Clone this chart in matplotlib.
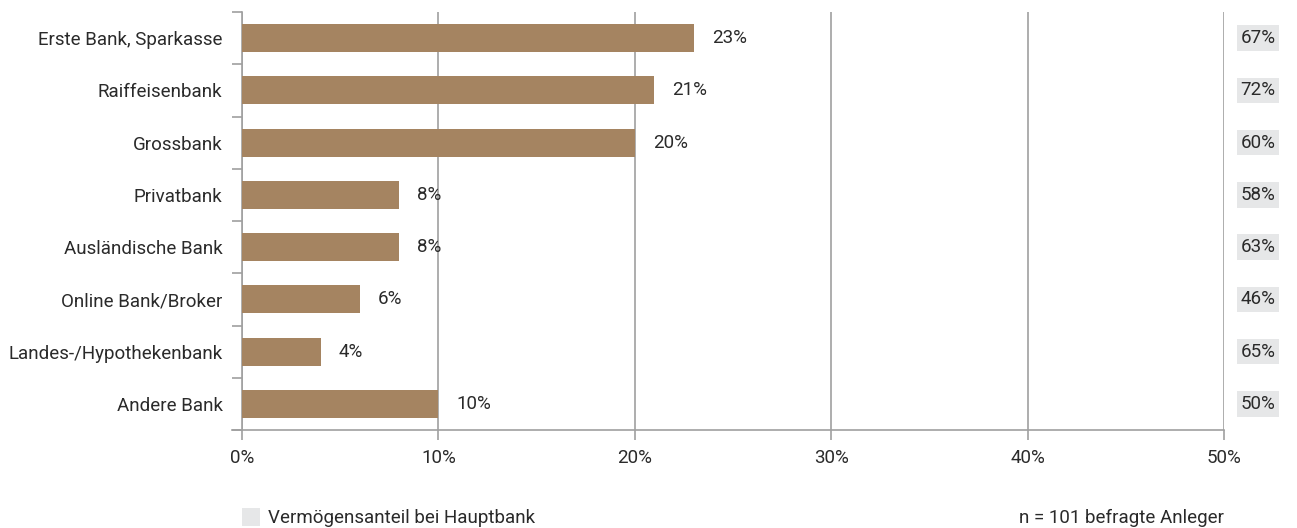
import numpy as np
import matplotlib.pyplot as plt
from matplotlib.patches import Rectangle

categories = ["Erste Bank, Sparkasse", "Raiffeisenbank", "Grossbank", "Privatbank",
              "Ausländische Bank", "Online Bank/Broker", "Landes-/Hypothekenbank", "Andere Bank"]
share_main_bank = [23, 21, 20, 8, 8, 6, 4, 10]
asset_share = [67, 72, 60, 58, 63, 46, 65, 50]
x_ticks = [0, 10, 20, 30, 40, 50]

bar_color = "#a58461"
text_color = "#2a2a2a"
line_color = "#a0a0a0"
box_color = "#e6e7e8"
fs = 13.5

plt.rcParams["font.family"] = ["Roboto", "DejaVu Sans"]
plt.rcParams["font.size"] = fs

fig = plt.figure(figsize=(12.97, 5.28), dpi=100)
ax = fig.add_axes([242 / 1297, 1 - 430 / 528, (1224 - 242) / 1297, 418 / 528])

y = np.arange(len(categories))
ax.barh(y, share_main_bank, height=0.54, color=bar_color, zorder=3)

for yi, v in zip(y, share_main_bank):
    ax.annotate(f"{v}%", (v, yi), xytext=(13, 0), textcoords="offset points",
                va="center", ha="left", color=text_color, fontsize=fs)

for yi, v in zip(y, asset_share):
    ax.annotate(f"{v}%", (50, yi), xytext=(24.5, 0), textcoords="offset points",
                va="center", ha="center", color=text_color, fontsize=fs,
                bbox=dict(boxstyle="square,pad=0.2", fc=box_color, ec="none"))

ax.set_xlim(0, 50)
ax.set_ylim(len(categories) - 0.5, -0.5)
ax.set_xticks(x_ticks)
ax.set_xticklabels([f"{t}%" for t in x_ticks])
ax.set_yticks(y)
ax.set_yticklabels(categories)
ax.set_yticks(np.arange(len(categories) + 1) - 0.5, minor=True)
ax.tick_params(axis="y", which="major", length=0, pad=14, colors=text_color, labelsize=fs)
ax.tick_params(axis="y", which="minor", length=7, color=line_color, width=1.2)
ax.tick_params(axis="x", length=7, color=line_color, width=1.2, pad=7,
               labelcolor=text_color, labelsize=fs)

ax.grid(axis="x", color=line_color, linewidth=1.2, zorder=0)
for s in ["top", "right"]:
    ax.spines[s].set_visible(False)
for s in ["left", "bottom"]:
    ax.spines[s].set_color(line_color)
    ax.spines[s].set_linewidth(1.2)
ax.spines["bottom"].set_bounds(-0.5, 50)

# legend and note
fig.patches.append(Rectangle((242 / 1297, 1 - 526 / 528), 18 / 1297, 18 / 528,
                             transform=fig.transFigure, fc=box_color, ec="none"))
fig.text(268 / 1297, 1 - 518 / 528, "Vermögensanteil bei Hauptbank", va="center",
         ha="left", color=text_color, fontsize=fs)
fig.text(1224 / 1297, 1 - 518 / 528, "n = 101 befragte Anleger", va="center",
         ha="right", color=text_color, fontsize=fs)

fig.savefig("out.png", dpi=100)
